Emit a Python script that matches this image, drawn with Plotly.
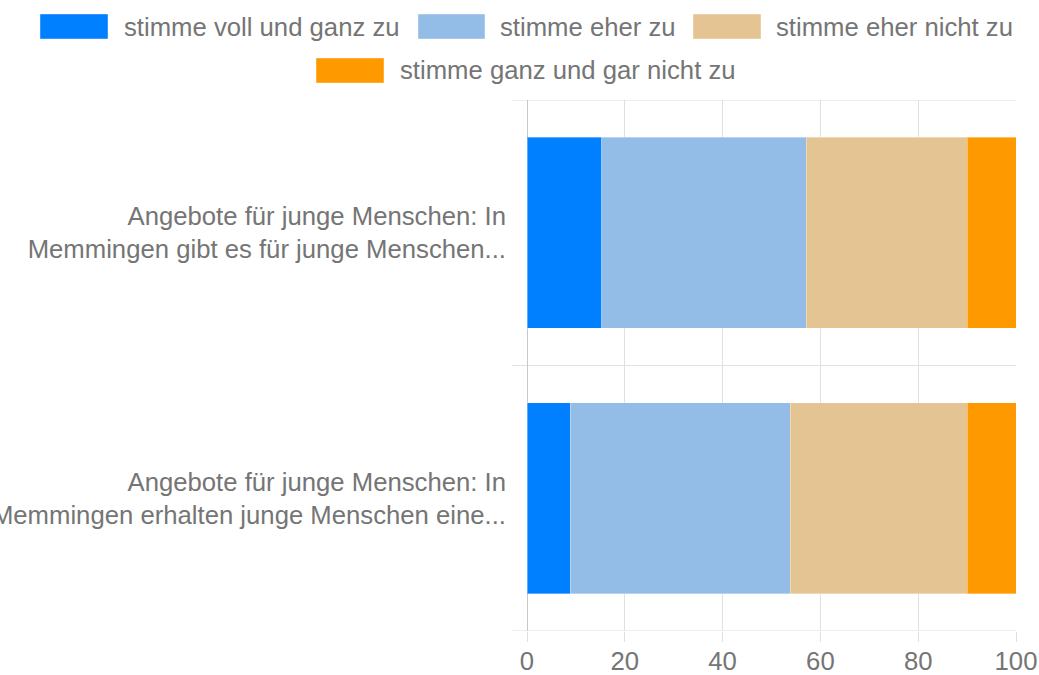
import plotly.graph_objects as go

categories = [
    "Angebote für junge Menschen: In<br>Memmingen gibt es für junge Menschen...",
    "Angebote für junge Menschen: In<br>Memmingen erhalten junge Menschen eine...",
]
series_names = [
    "stimme voll und ganz zu",
    "stimme eher zu",
    "stimme eher nicht zu",
    "stimme ganz und gar nicht zu",
]
voll_und_ganz = [15.3, 8.8]
eher_zu = [41.8, 45.0]
eher_nicht = [32.9, 36.2]
gar_nicht = [10.0, 10.0]
x_ticks = [0, 20, 40, 60, 80, 100]

colors = ["#0080ff", "#93bde7", "#e5c493", "#ff9900"]
series_values = [voll_und_ganz, eher_zu, eher_nicht, gar_nicht]

W, H = 1039, 675
L, R, T, B = 527, 1016, 100, 631  # plot area in page pixels
FONT = "Liberation Sans, Arial, sans-serif"
GREY = "#757575"
FS = 25.7

ypos = list(range(len(categories)))

fig = go.Figure()
for name, vals, col in zip(series_names, series_values, colors):
    fig.add_trace(go.Bar(
        y=ypos, x=vals, name=name, orientation="h",
        marker=dict(color=col, line=dict(width=1, color="rgba(255,255,255,0.35)")),
        width=0.72, showlegend=False,
    ))

def px_x(p):
    return (p - L) / (R - L)

def px_y(p):
    return (B - p) / (B - T)

shapes = []
annotations = []
for yb in [-0.5, 0.5, 1.5]:
    shapes.append(dict(type="line", xref="paper", yref="y", x0=px_x(512), x1=1,
                       y0=yb, y1=yb, line=dict(color="#e0e0e0", width=1), layer="below"))

legend_items = [
    (0, 40, 108, 122, 14, 39),
    (1, 418, 485, 498, 14, 39),
    (2, 693, 761, 774, 14, 39),
    (3, 316, 384, 398, 58, 83),
]
for i, x0, x1, tx, y0, y1 in legend_items:
    shapes.append(dict(type="rect", xref="paper", yref="paper",
                       x0=px_x(x0), x1=px_x(x1), y0=px_y(y1), y1=px_y(y0),
                       fillcolor=colors[i], line=dict(width=1, color="rgba(255,255,255,0.4)")))
    annotations.append(dict(text=series_names[i], xref="paper", yref="paper",
                            x=px_x(tx), y=px_y((y0 + y1) / 2), xanchor="left", yanchor="middle",
                            showarrow=False, font=dict(family=FONT, size=FS, color=GREY)))

fig.update_layout(
    width=W, height=H,
    margin=dict(l=L, r=W - R, t=T, b=H - B, autoexpand=False),
    paper_bgcolor="white", plot_bgcolor="white",
    barmode="stack", bargap=0.28,
    showlegend=False,
    shapes=shapes, annotations=annotations,
    font=dict(family=FONT, size=FS, color=GREY),
    xaxis=dict(range=[0, 100], tickvals=x_ticks, showgrid=True, gridcolor="#e0e0e0",
               gridwidth=1, zeroline=True, zerolinecolor="#c8c8c8", zerolinewidth=1,
               ticks="outside", ticklen=10, tickcolor="#e0e0e0", tickwidth=1,
               showline=False, tickfont=dict(family=FONT, size=FS, color=GREY),
               ticklabeloverflow="allow", ticklabelstandoff=-3,
               fixedrange=True),
    yaxis=dict(range=[1.5, -0.5], tickvals=ypos, ticktext=categories,
               showgrid=False, zeroline=False, showline=False, ticks="",
               ticklabelstandoff=20, automargin=False, ticklabeloverflow="allow",
               tickfont=dict(family=FONT, size=FS, color=GREY), fixedrange=True),
)

fig.write_html("out.html", config={"displayModeBar": False},
               post_script="document.body.style.margin='0';document.body.style.overflow='hidden';")
